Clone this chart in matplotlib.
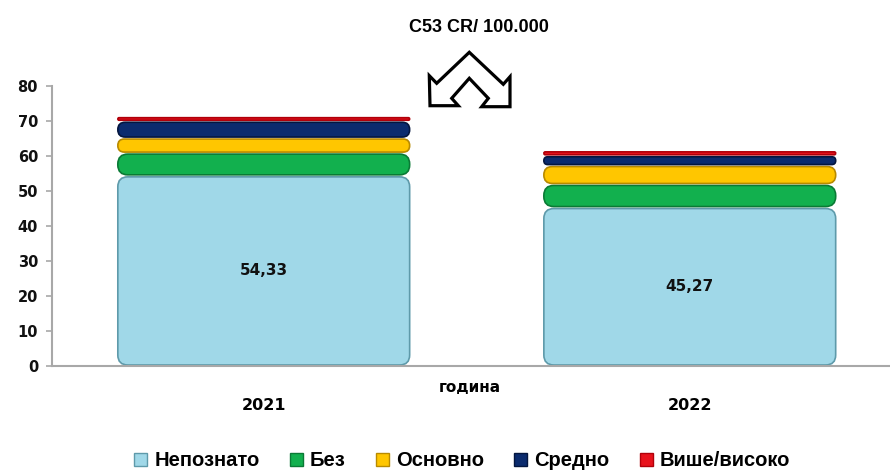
import matplotlib
matplotlib.use("Agg")
import numpy as np
from matplotlib import pyplot as plt
from matplotlib.patches import FancyBboxPatch, Polygon

years = ["2021", "2022"]
categories = ["Непознато", "Без", "Основно", "Средно", "Више/високо"]
nepoznato = [54.33, 45.27]
bez = [6.5, 6.6]
osnovno = [4.3, 5.4]
sredno = [4.8, 2.8]
vishe = [1.3, 1.4]
series = [nepoznato, bez, osnovno, sredno, vishe]
colors = ["#A0D8E8", "#12B04E", "#FFC600", "#0B2B6E", "#E8121C"]
edges = ["#5E9AAA", "#0A7A35", "#B88A00", "#04163F", "#B0000A"]
title = "C53 CR/ 100.000"

W, H = 890, 472
fig = plt.figure(figsize=(W / 100, H / 100), dpi=100)
ax = fig.add_axes([52 / W, (H - 366) / H, (W - 52) / W, (366 - 86) / H])

x = np.arange(len(years))
width = 0.685
ax.set_xlim(-0.497, 1.47)
ax.set_ylim(0, 80)

# px per data unit, for rounded corners
px_x = (W - 52) / (1.47 + 0.497)
px_y = (366 - 86) / 80.0

bottom = np.zeros(len(years))
for vals, c, ec in zip(series, colors, edges):
    bars = ax.bar(x, vals, width, bottom=bottom, color=c, alpha=0)
    for b in bars:
        bx, by = b.get_x(), b.get_y()
        bw, bh = b.get_width(), b.get_height()
        gap = 1.0 / px_y
        h_px = bh * px_y - 2.0
        r_px = max(min(10, h_px / 2), 0.5)
        p = FancyBboxPatch((bx, by + gap), bw, bh - 2 * gap,
                           boxstyle="round,pad=0,rounding_size=%f" % (r_px / px_x),
                           mutation_aspect=px_x / px_y,
                           facecolor=c, edgecolor=ec, linewidth=1.2)
        ax.add_patch(p)
    bottom += np.array(vals)

for xi, v in zip(x, nepoznato):
    ax.text(xi, v / 2, ("%.2f" % v).replace(".", ","), ha="center", va="center",
            fontsize=11, fontweight="bold", color="#111111")

for s in ["top", "right"]:
    ax.spines[s].set_visible(False)
ax.spines["left"].set_color("#A8A8A8")
ax.spines["bottom"].set_color("#A8A8A8")
ax.spines["left"].set_linewidth(1.5)
ax.spines["bottom"].set_linewidth(1.5)
ax.set_yticks(range(0, 81, 10))
ax.tick_params(axis="y", colors="#A8A8A8", length=4, width=1.2, labelsize=10.5,
               labelcolor="#111111", pad=6)
for t in ax.get_yticklabels():
    t.set_fontweight("bold")
ax.set_xticks(x)
ax.set_xticklabels(years, fontsize=11.5, fontweight="bold")
ax.tick_params(axis="x", length=0, pad=23)

ax.text((470 - 52) / (W - 52), (366 - 388) / (366 - 86), "година", transform=ax.transAxes,
        ha="center", va="center", fontsize=11, fontweight="bold")

fig.text(479 / W, 1 - 27 / H, title, ha="center", va="center", fontsize=13,
         fontweight="bold", family="Liberation Sans")

# double arrow decoration, pixel coords
arrow = [(469.3, 52.3), (436.7, 83.3), (429.3, 75.7), (430, 105.7), (458.3, 105.7),
         (451.7, 98.3), (469.3, 78.3), (488.3, 98.3), (481.7, 106.7), (510, 106.7),
         (510, 76.7), (503.3, 84.3)]
pts = [(px / W, 1 - py / H) for px, py in arrow]
fig.patches.append(Polygon(pts, closed=True, transform=fig.transFigure,
                           facecolor="white", edgecolor="black", linewidth=2.3,
                           joinstyle="miter"))

handles = [plt.Rectangle((0, 0), 1, 1, facecolor=c, edgecolor=ec) for c, ec in zip(colors, edges)]
fig.legend(handles, categories, loc="center", bbox_to_anchor=(462 / W, 1 - 461 / H), ncol=5,
           frameon=False, handlelength=0.65, handleheight=0.65, handletextpad=0.35,
           columnspacing=1.5, prop={"family": "Liberation Sans", "weight": "bold", "size": 14.5})

fig.savefig("out.png", dpi=100)
